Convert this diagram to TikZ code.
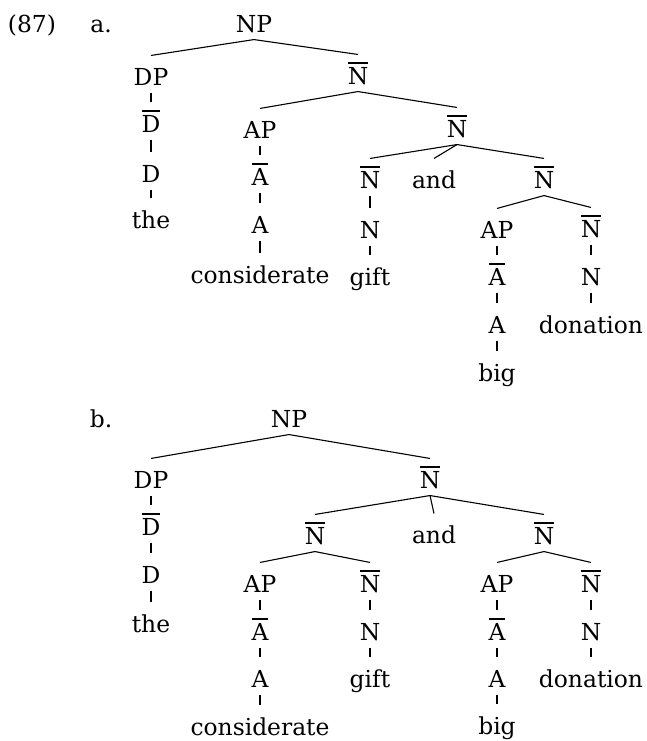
\documentclass[tikz,border=0pt]{standalone}
\usepackage{fontspec}
\setmainfont{DejaVu Serif}
\newcommand{\bbar}[1]{\vbox{\hrule height 0.75pt\kern 1.6pt\hbox{#1}}}
\begin{document}
\begin{tikzpicture}[x=0.5pt, y=-0.5pt,
    cat/.style={anchor=base, inner sep=0pt, text height=14.5pt, text depth=3.5pt,
      font=\fontsize{11.7pt}{14pt}\selectfont},
    every path/.style={line width=0.55pt}]
  \useasboundingbox (0, 0) rectangle (647, 741);

  % (87a)
  \node [cat] (ex) at (32, 32) {(87)};
  \node [cat] (la) at (101, 32) {a.};
  \node [cat] (anp) at (254, 32) {NP};
  \node [cat] (adp) at (151, 85) {DP};
  \node [cat] (an1) at (358, 84) {\bbar{N}};
  \node [cat] (adb) at (151, 132) {\bbar{D}};
  \node [cat] (aap) at (260, 138) {AP};
  \node [cat] (an2) at (457, 137) {\bbar{N}};
  \node [cat] (ad) at (151, 182) {D};
  \node [cat] (aab) at (260, 185) {\bbar{A}};
  \node [cat] (an3) at (370, 188) {\bbar{N}};
  \node [cat] (aand) at (434, 188) {and};
  \node [cat] (an4) at (544, 188) {\bbar{N}};
  \node [cat] (athe) at (151, 228) {the};
  \node [cat] (aa) at (260, 233) {A};
  \node [cat] (an) at (370, 238) {N};
  \node [cat] (aap2) at (497, 238) {AP};
  \node [cat] (an5) at (591, 237) {\bbar{N}};
  \node [cat] (acons) at (260, 283) {considerate};
  \node [cat] (agift) at (370, 285) {gift};
  \node [cat] (aab2) at (497, 285) {\bbar{A}};
  \node [cat] (ann) at (591, 285) {N};
  \node [cat] (aa2) at (497, 333) {A};
  \node [cat] (adon) at (591, 333) {donation};
  \node [cat] (abig) at (497, 381) {big};

  \draw (anp.south) -- (adp.north);
  \draw (anp.south) -- (an1.north);
  \draw (adp.south) -- (adb.north);
  \draw (adb.south) -- (ad.north);
  \draw (ad.south) -- (athe.north);
  \draw (an1.south) -- (aap.north);
  \draw (an1.south) -- (an2.north);
  \draw (aap.south) -- (aab.north);
  \draw (aab.south) -- (aa.north);
  \draw (aa.south) -- (acons.north);
  \draw (an2.south) -- (an3.north);
  \draw (an2.south) -- (aand.north);
  \draw (an2.south) -- (an4.north);
  \draw (an3.south) -- (an.north);
  \draw (an.south) -- (agift.north);
  \draw (an4.south) -- (aap2.north);
  \draw (an4.south) -- (an5.north);
  \draw (aap2.south) -- (aab2.north);
  \draw (aab2.south) -- (aa2.north);
  \draw (aa2.south) -- (abig.north);
  \draw (an5.south) -- (ann.north);
  \draw (ann.south) -- (adon.north);

  % (87b)
  \node [cat] (lb) at (101, 427) {b.};
  \node [cat] (bnp) at (289, 427) {NP};
  \node [cat] (bdp) at (151, 488) {DP};
  \node [cat] (bn1) at (430, 488) {\bbar{N}};
  \node [cat] (bdb) at (151, 535) {\bbar{D}};
  \node [cat] (bn2) at (315, 544) {\bbar{N}};
  \node [cat] (band) at (434, 543) {and};
  \node [cat] (bn3) at (544, 544) {\bbar{N}};
  \node [cat] (bd) at (151, 583) {D};
  \node [cat] (bap) at (260, 592) {AP};
  \node [cat] (bn4) at (370, 592) {\bbar{N}};
  \node [cat] (bap2) at (497, 592) {AP};
  \node [cat] (bn5) at (591, 592) {\bbar{N}};
  \node [cat] (bthe) at (151, 632) {the};
  \node [cat] (bab) at (260, 640) {\bbar{A}};
  \node [cat] (bn) at (370, 640) {N};
  \node [cat] (bab2) at (497, 640) {\bbar{A}};
  \node [cat] (bnn) at (591, 640) {N};
  \node [cat] (ba) at (260, 687) {A};
  \node [cat] (bgift) at (370, 687) {gift};
  \node [cat] (ba2) at (497, 687) {A};
  \node [cat] (bdon) at (591, 687) {donation};
  \node [cat] (bcons) at (260, 735) {considerate};
  \node [cat] (bbig) at (497, 734) {big};

  \draw (bnp.south) -- (bdp.north);
  \draw (bnp.south) -- (bn1.north);
  \draw (bdp.south) -- (bdb.north);
  \draw (bdb.south) -- (bd.north);
  \draw (bd.south) -- (bthe.north);
  \draw (bn1.south) -- (bn2.north);
  \draw (bn1.south) -- (band.north);
  \draw (bn1.south) -- (bn3.north);
  \draw (bn2.south) -- (bap.north);
  \draw (bn2.south) -- (bn4.north);
  \draw (bap.south) -- (bab.north);
  \draw (bab.south) -- (ba.north);
  \draw (ba.south) -- (bcons.north);
  \draw (bn4.south) -- (bn.north);
  \draw (bn.south) -- (bgift.north);
  \draw (bn3.south) -- (bap2.north);
  \draw (bn3.south) -- (bn5.north);
  \draw (bap2.south) -- (bab2.north);
  \draw (bab2.south) -- (ba2.north);
  \draw (ba2.south) -- (bbig.north);
  \draw (bn5.south) -- (bnn.north);
  \draw (bnn.south) -- (bdon.north);
\end{tikzpicture}
\end{document}
